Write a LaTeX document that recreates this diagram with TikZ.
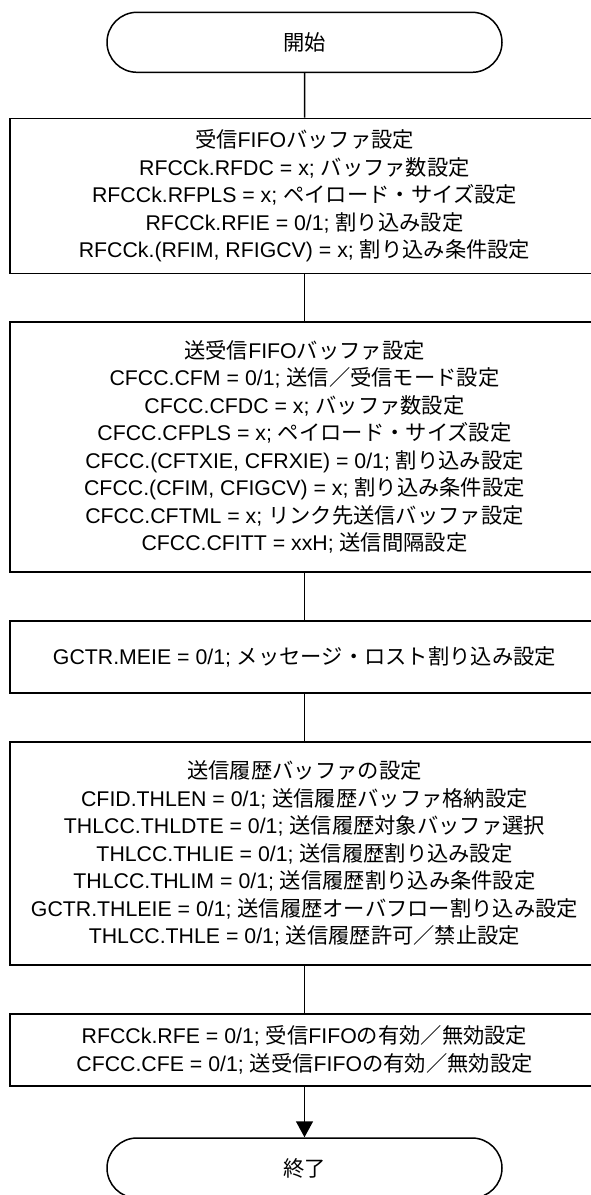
\documentclass[tikz,border=0pt]{standalone}
\usepackage{fontspec}
\setmainfont{Liberation Sans}
\newfontfamily\jpfont{Noto Sans CJK JP}
\newcommand\jt[1]{{\jpfont #1}}
\usetikzlibrary{shapes.misc,arrows.meta}
\tikzset{
  flowline/.style={line width=1.5pt, draw=black},
  termbox/.style={rounded rectangle, draw, line width=1.5pt, minimum width=395pt, minimum height=60pt, inner sep=0pt},
  procbox/.style={rectangle, draw, line width=1.8pt, minimum width=589pt, inner sep=0pt, align=center},
  txt/.style={font=\fontsize{21.3}{27.5}\selectfont}
}
\begin{document}
\begin{tikzpicture}[x=1pt,y=-1pt]
\clip (0,0) rectangle (591,1195);
\fill[white] (0,0) rectangle (591,1195);
\node[termbox, txt] (start) at (304.5,42.3) {\jt{開始}};
\node[procbox, txt, minimum height=155pt] (b1) at (304.5,196) {%
\jt{受信}FIFO\jt{バッファ設定}\\
RFCCk.RFDC = x; \jt{バッファ数設定}\\
RFCCk.RFPLS = x; \jt{ペイロード・サイズ設定}\\
RFCCk.RFIE = 0/1; \jt{割り込み設定}\\
RFCCk.(RFIM, RFIGCV) = x; \jt{割り込み条件設定}};
\node[procbox, txt, minimum height=250pt] (b2) at (304.5,447) {%
\jt{送受信}FIFO\jt{バッファ設定}\\
CFCC.CFM = 0/1; \jt{送信／受信モード設定}\\
CFCC.CFDC = x; \jt{バッファ数設定}\\
CFCC.CFPLS = x; \jt{ペイロード・サイズ設定}\\
CFCC.(CFTXIE, CFRXIE) = 0/1; \jt{割り込み設定}\\
CFCC.(CFIM, CFIGCV) = x; \jt{割り込み条件設定}\\
CFCC.CFTML = x; \jt{リンク先送信バッファ設定}\\
CFCC.CFITT = xxH; \jt{送信間隔設定}};
\node[procbox, txt, minimum height=72pt] (b3) at (304.5,657) {%
GCTR.MEIE = 0/1; \jt{メッセージ・ロスト割り込み設定}};
\node[procbox, txt, minimum height=223pt] (b4) at (304.5,853.5) {%
\jt{送信履歴バッファの設定}\\
CFID.THLEN = 0/1; \jt{送信履歴バッファ格納設定}\\
THLCC.THLDTE = 0/1; \jt{送信履歴対象バッファ選択}\\
THLCC.THLIE = 0/1; \jt{送信履歴割り込み設定}\\
THLCC.THLIM = 0/1; \jt{送信履歴割り込み条件設定}\\
GCTR.THLEIE = 0/1; \jt{送信履歴オーバフロー割り込み設定}\\
THLCC.THLE = 0/1; \jt{送信履歴許可／禁止設定}};
\node[procbox, txt, minimum height=72pt] (b5) at (304.5,1050) {%
RFCCk.RFE = 0/1; \jt{受信}FIFO\jt{の有効／無効設定}\\
CFCC.CFE = 0/1; \jt{送受信}FIFO\jt{の有効／無効設定}};
\node[termbox, txt] (stop) at (304.5,1168) {\jt{終了}};
\draw[flowline] (start) -- (b1);
\draw[flowline] (b1) -- (b2);
\draw[flowline] (b2) -- (b3);
\draw[flowline] (b3) -- (b4);
\draw[flowline] (b4) -- (b5);
\draw[flowline, -{Triangle[width=17pt,length=16pt]}] (b5) -- (stop);
\end{tikzpicture}
\end{document}
